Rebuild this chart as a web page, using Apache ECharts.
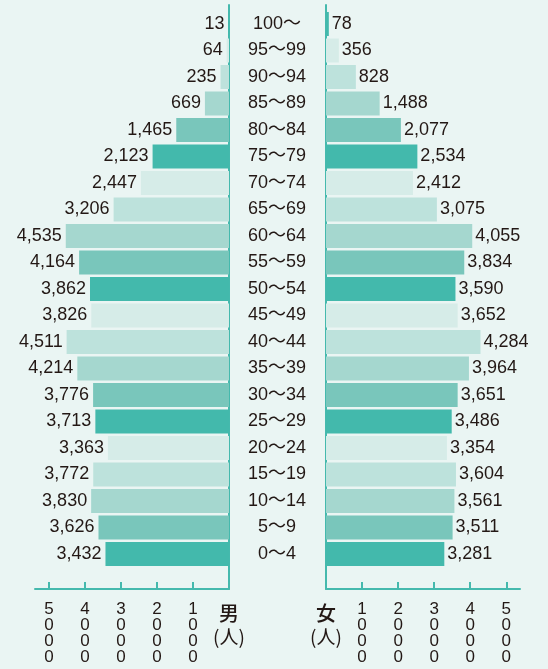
<!DOCTYPE html>
<html>
<head>
<meta charset="utf-8">
<script src="https://cdn.jsdelivr.net/npm/echarts@6/dist/echarts.min.js"></script>
<style>
  html, body { margin: 0; padding: 0; background: #eaf5f3; }
  #chart { width: 548px; height: 669px; }
</style>
</head>
<body>
<div id="chart"></div>
<script>
// 年齢階級（下から上へ）
const ageGroups = ['0～4', '5～9', '10～14', '15～19', '20～24', '25～29', '30～34', '35～39',
    '40～44', '45～49', '50～54', '55～59', '60～64', '65～69', '70～74', '75～79',
    '80～84', '85～89', '90～94', '95～99', '100～'];
const maleValues = [3432, 3626, 3830, 3772, 3363, 3713, 3776, 4214, 4511, 3826, 3862,
    4164, 4535, 3206, 2447, 2123, 1465, 669, 235, 64, 13];
const femaleValues = [3281, 3511, 3561, 3604, 3354, 3486, 3651, 3964, 4284, 3652, 3590,
    3834, 4055, 3075, 2412, 2534, 2077, 1488, 828, 356, 78];
const tickValues = [1000, 2000, 3000, 4000, 5000];
const labelValues = [0, 1000, 2000, 3000, 4000, 5000];

const palette = ['#43b9ac', '#79c6bb', '#a5d7cf', '#bde2dc', '#d6ece8'];
const axisColor = '#45b9ad';
const textColor = '#231815';
const font = "'Liberation Sans', Arial, 'Noto Sans CJK JP', sans-serif";
const cjkFont = "'Noto Sans CJK JP', sans-serif";

const MALE_MAX = 5390;
const FEMALE_MAX = 5380;

const chart = echarts.init(document.getElementById('chart'));

function scaleAxis(gridIndex, max, inverse, sexLabel) {
    return {
        type: 'value', gridIndex, min: 0, max, inverse,
        splitLine: { show: false },
        axisLine: { show: true, onZero: false, lineStyle: { color: axisColor, width: 2 } },
        axisTick: {
            show: true, inside: true, length: 7, customValues: tickValues,
            lineStyle: { color: axisColor, width: 2 }
        },
        axisLabel: {
            customValues: labelValues, margin: 12,
            fontFamily: font, fontSize: 17, lineHeight: 16, color: textColor,
            formatter: v => v === 0 ? '{s|' + sexLabel + '}\n{p|(人)}' : String(v).split('').join('\n'),
            rich: {
                s: { fontFamily: cjkFont, fontSize: 20, fontWeight: 500, lineHeight: 24, color: textColor },
                p: { fontFamily: cjkFont, fontSize: 19, lineHeight: 24, color: textColor }
            }
        }
    };
}

function lineAxis(gridIndex, position) {
    return {
        type: 'value', gridIndex, min: 0, max: 1, position,
        axisLine: { show: true, onZero: false, lineStyle: { color: axisColor, width: 2 } },
        axisTick: { show: false }, axisLabel: { show: false }, splitLine: { show: false }
    };
}

const option = {
    backgroundColor: '#eaf5f3',
    animation: false,
    grid: [
        { left: 35, right: 319, top: 10.75, bottom: 101.75 },   // 男 棒
        { left: 326, right: 28, top: 10.75, bottom: 101.75 },   // 女 棒
        { left: 35, right: 319, top: 5, bottom: 80 },           // 男 軸
        { left: 326, right: 28, top: 5, bottom: 80 }            // 女 軸
    ],
    xAxis: [
        { type: 'value', gridIndex: 0, min: 0, max: MALE_MAX, inverse: true, show: false },
        { type: 'value', gridIndex: 1, min: 0, max: FEMALE_MAX, show: false },
        scaleAxis(2, MALE_MAX, true, '男'),
        scaleAxis(3, FEMALE_MAX, false, '女')
    ],
    yAxis: [
        { type: 'category', gridIndex: 0, data: ageGroups, show: false },
        {
            type: 'category', gridIndex: 1, data: ageGroups,
            axisLine: { show: false }, axisTick: { show: false },
            axisLabel: { margin: 49, align: 'center', fontFamily: font, fontSize: 18, color: textColor }
        },
        lineAxis(2, 'right'),
        lineAxis(3, 'left')
    ],
    series: [
        {
            name: '男', type: 'bar', xAxisIndex: 0, yAxisIndex: 0,
            data: maleValues, barWidth: 24,
            itemStyle: { color: p => palette[p.dataIndex % 5] },
            label: {
                show: true, position: 'left', distance: 4,
                fontFamily: font, fontSize: 18, color: textColor,
                formatter: p => p.value.toLocaleString('en-US')
            }
        },
        {
            name: '女', type: 'bar', xAxisIndex: 1, yAxisIndex: 1,
            data: femaleValues, barWidth: 24,
            itemStyle: { color: p => palette[p.dataIndex % 5] },
            label: {
                show: true, position: 'right', distance: 3,
                fontFamily: font, fontSize: 18, color: textColor,
                formatter: p => p.value.toLocaleString('en-US')
            }
        }
    ]
};

chart.setOption(option);
</script>
</body>
</html>
